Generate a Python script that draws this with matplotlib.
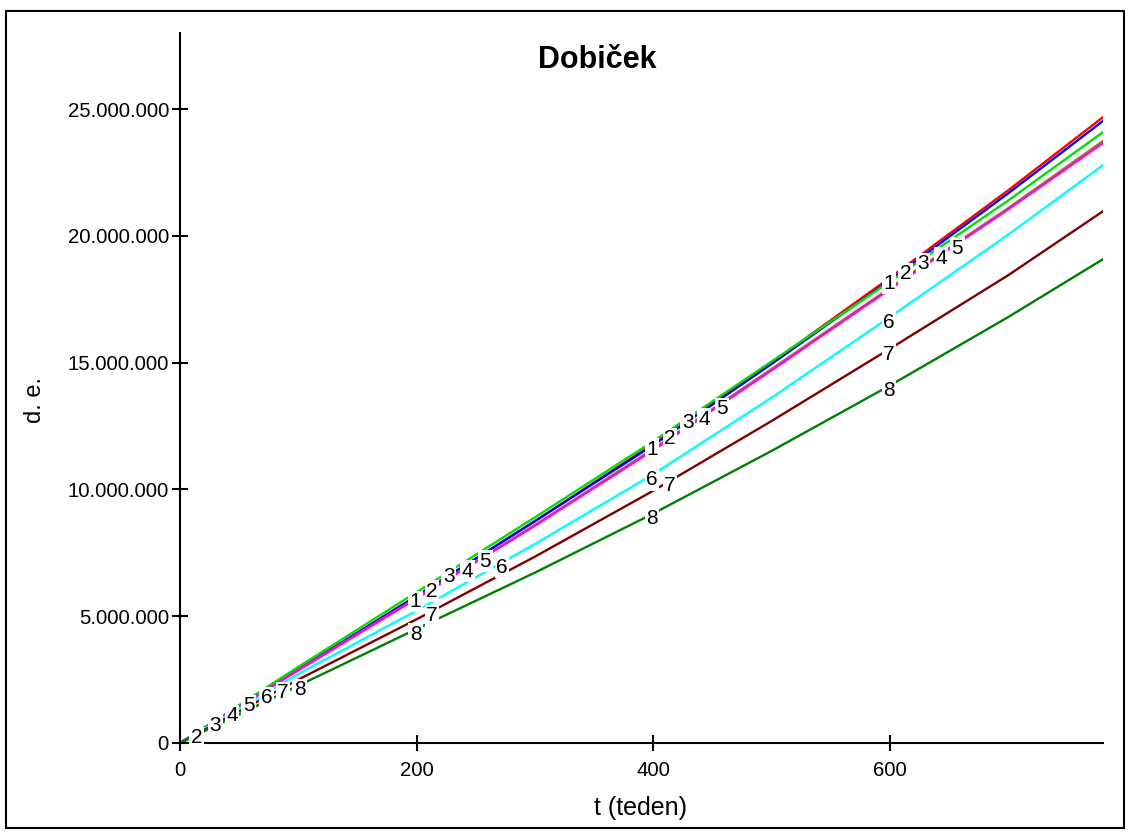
import numpy as np
import matplotlib.pyplot as plt
from matplotlib.ticker import FuncFormatter
from matplotlib.patches import Rectangle

plt.rcParams['font.family'] = ['Liberation Sans', 'DejaVu Sans']

# čas v tednih
t = [0, 100, 200, 300, 400, 500, 600, 700, 780]

# dobiček (milijoni d. e.) za vsak scenarij
dob1 = [0, 2.90, 5.80, 8.75, 11.80, 15.00, 18.35, 21.80, 24.68]
dob2 = [0, 2.90, 5.80, 8.75, 11.75, 14.95, 18.25, 21.68, 24.53]
dob3 = [0, 3.00, 5.95, 8.90, 11.90, 15.05, 18.20, 21.40, 24.09]
dob4 = [0, 2.88, 5.72, 8.60, 11.60, 14.75, 17.95, 21.10, 23.74]
dob5 = [0, 2.87, 5.70, 8.57, 11.55, 14.70, 17.90, 21.05, 23.66]
dob6 = [0, 2.72, 5.22, 7.85, 10.60, 13.62, 16.80, 20.05, 22.79]
dob7 = [0, 2.50, 4.88, 7.35, 9.95, 12.70, 15.55, 18.45, 20.97]
dob8 = [0, 2.26, 4.50, 6.72, 9.05, 11.52, 14.10, 16.80, 19.08]
serije = [dob1, dob2, dob3, dob4, dob5, dob6, dob7, dob8]

barve = ['#ff0000', '#0000ff', '#00e000', '#8a8a00',
         '#ff00ff', '#00ffff', '#800000', '#008000']

# kje (t) stojijo številke ob krivuljah
oznake_t = [
    [199, 399, 599],
    [14, 213, 414, 613],
    [30, 227, 429, 628],
    [44, 243, 443, 643],
    [58, 258, 458, 657],
    [73, 272, 399, 599],
    [87, 213, 414, 599],
    [101, 199, 399, 599],
]

W, H = 1130, 833
fig = plt.figure(figsize=(W / 100, H / 100), dpi=100)
ax = fig.add_axes([180 / W, 1 - 743 / H, 923 / W, 710 / H])

for vals, c in zip(serije, barve):
    ax.plot(t, np.array(vals) * 1e6, color=c, lw=1.7, zorder=2)

for i, vals in enumerate(serije):
    y = np.array(vals) * 1e6
    for tt in oznake_t[i]:
        ax.annotate(str(i + 1), (tt, np.interp(tt, t, y)), xytext=(0, -3.5),
                    textcoords='offset points', ha='center', va='center',
                    fontsize=15, zorder=5,
                    bbox=dict(fc='white', ec='none', pad=1.0))

ax.set_xlim(0, 780)
ax.set_ylim(0, 28e6)
ax.set_xticks([0, 200, 400, 600])
ax.set_yticks([0, 5e6, 10e6, 15e6, 20e6, 25e6])
ax.yaxis.set_major_formatter(FuncFormatter(lambda v, p: f"{int(v):,}".replace(",", ".")))

for s in ['top', 'right']:
    ax.spines[s].set_visible(False)
for s in ['left', 'bottom']:
    ax.spines[s].set_linewidth(1.5)

ax.tick_params(direction='inout', length=12, width=1.5, labelsize=14.7)
ax.tick_params(axis='x', pad=7)
ax.tick_params(axis='y', pad=2)

fig.text(597 / W, 1 - 60 / H, 'Dobiček', ha='center', va='center',
         fontsize=22, fontweight='bold')
fig.text(640 / W, 1 - 808 / H, 't (teden)', ha='center', va='center', fontsize=18)
fig.text(35 / W, 1 - 400 / H, 'd. e.', ha='center', va='center', rotation=90, fontsize=17)

fig.add_artist(Rectangle((6 / W, 1 - 828 / H), 1118 / W, 817 / H,
                         transform=fig.transFigure, fill=False, lw=1.5, ec='black'))

fig.savefig('out.png', dpi=100)
